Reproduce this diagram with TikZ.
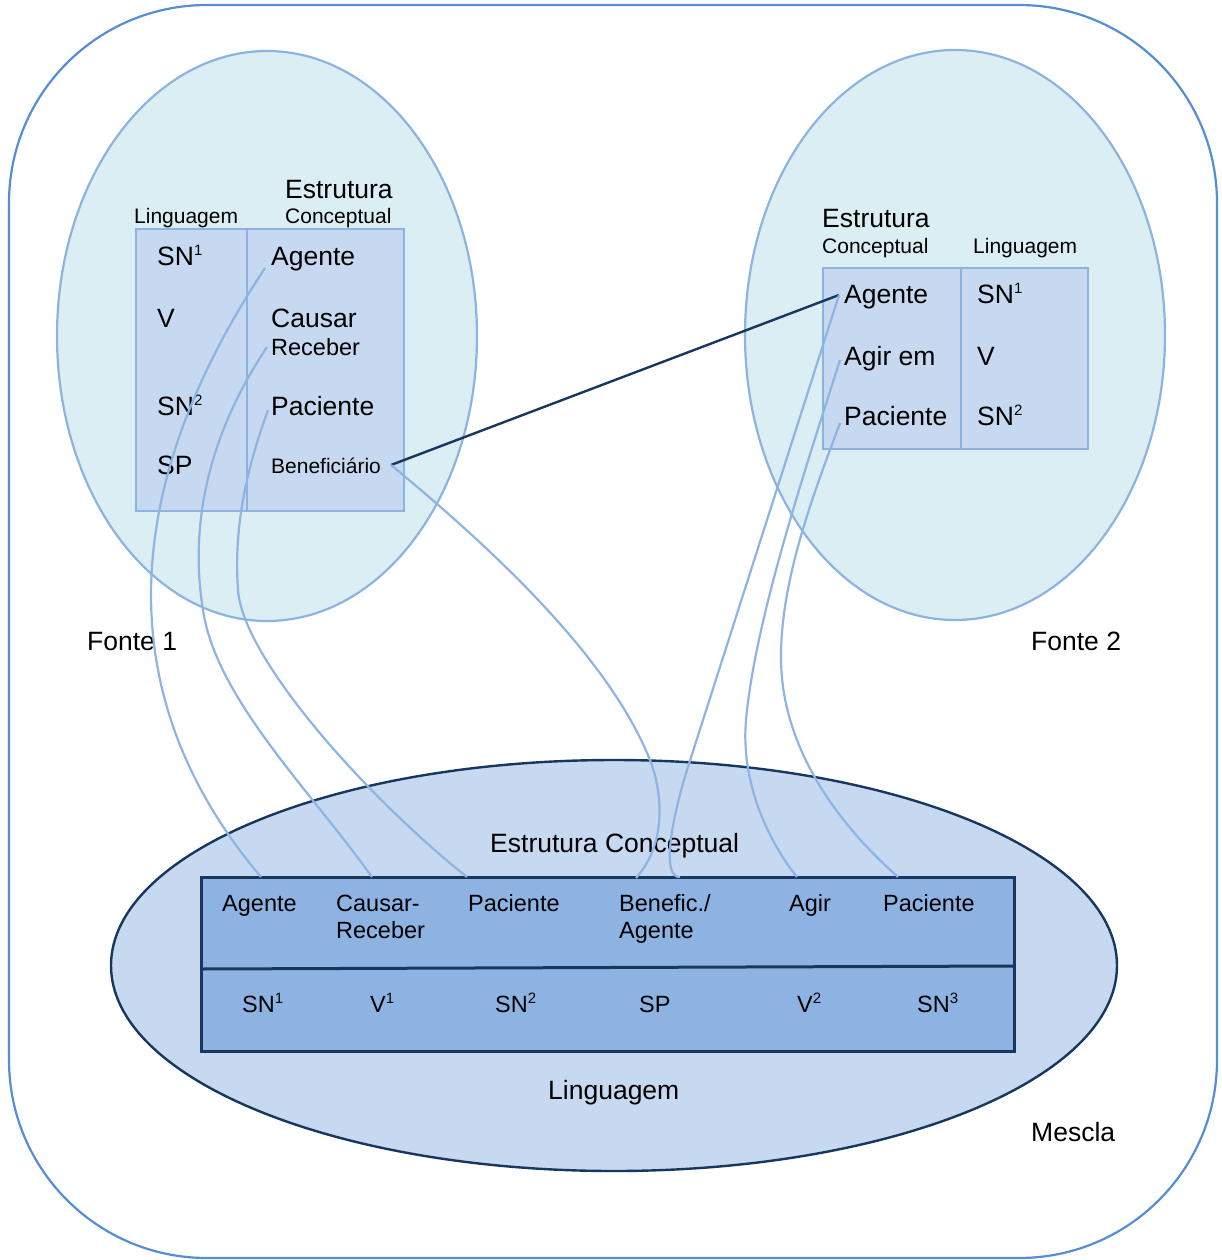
\documentclass[tikz,border=0pt]{standalone}
\usepackage{fontspec}
\setmainfont{Liberation Sans}
\usetikzlibrary{shapes.geometric}
\definecolor{frameblue}{HTML}{558ED5}
\definecolor{cyanfill}{HTML}{DBEEF4}
\definecolor{ringblue}{HTML}{8DB3E2}
\definecolor{boxfill}{HTML}{C6D9F1}
\definecolor{navy}{HTML}{17375E}
\definecolor{rowfill}{HTML}{8DB3E2}
\definecolor{linkblue}{HTML}{8EB4E3}
\newcommand\supx[1]{\raisebox{0.36em}{\fontsize{15}{15}\selectfont #1}}
\begin{document}
\begin{tikzpicture}[x=1pt,y=-1pt,
  big/.style={inner sep=0pt, anchor=base west, font=\fontsize{26.5}{30}\selectfont},
  mid/.style={inner sep=0pt, anchor=base west, font=\fontsize{23.5}{27}\selectfont},
  sml/.style={inner sep=0pt, anchor=base west, font=\fontsize{21}{24}\selectfont},
  source/.style={ellipse, draw=ringblue, fill=cyanfill, line width=2.2pt, inner sep=0pt},
  table/.style={rectangle, draw=ringblue, fill=boxfill, line width=2.4pt, inner sep=0pt},
  link/.style={draw=linkblue, line width=2.2pt},
  strong/.style={draw=navy, line width=2.4pt}]
\useasboundingbox (0,0) rectangle (1221,1260);

% outer frame of the blend space
\draw[frameblue, line width=2.2pt, rounded corners=198pt] (9,5) rectangle (1217,1258);

% the two input spaces
\node[source, minimum width=420pt, minimum height=570pt] (fonte1) at (267,336) {};
\node[source, minimum width=420pt, minimum height=570pt] (fonte2) at (955,335) {};

\node[table, minimum width=268pt, minimum height=282pt] (tab1) at (270,370) {};
\draw[ringblue, line width=2.4pt] (247,229) -- (247,511);
\node[table, minimum width=265pt, minimum height=181pt] (tab2) at (955.5,358.5) {};
\draw[ringblue, line width=2.4pt] (961,268) -- (961,449);

% blended space
\node[ellipse, draw=navy, fill=boxfill, line width=2.4pt, inner sep=0pt,
      minimum width=1006pt, minimum height=411pt] (mescla) at (614,965.5) {};
\node[rectangle, draw=navy, fill=rowfill, line width=3pt, inner sep=0pt,
      minimum width=813pt, minimum height=174pt] (tab3) at (607.5,964) {};
\draw[navy, line width=3pt] (201,969) -- (1014,966);

% input space 1 labels
\node[big] (est1) at (285,198) {Estrutura};
\node[sml] (con1) at (285,223) {Conceptual};
\node[sml] (lin1) at (134,223) {Linguagem};
\node[big] (sn1a) at (157,265) {SN\supx{1}};
\node[big] (va) at (157,327) {V};
\node[big] (sn2a) at (157,415) {SN\supx{2}};
\node[big] (spa) at (157,474) {SP};
\node[big] (ag1) at (271,265) {Agente};
\node[big] (cau1) at (271,327) {Causar};
\node[mid] (rec1) at (271,355) {Receber};
\node[big] (pac1) at (271,415) {Paciente};
\node[sml] (ben1) at (271,473) {Beneficiário};

% input space 2 labels
\node[big] (est2) at (822,227) {Estrutura};
\node[sml] (con2) at (822,253) {Conceptual};
\node[sml] (lin2) at (973,253) {Linguagem};
\node[big] (ag2) at (844,303) {Agente};
\node[big] (agir2) at (844,365) {Agir em};
\node[big] (pac2) at (844,425) {Paciente};
\node[big] (sn1b) at (977,303) {SN\supx{1}};
\node[big] (vb) at (977,365) {V};
\node[big] (sn2b) at (977,425) {SN\supx{2}};

% space names
\node[big] (f1) at (87,650) {Fonte 1};
\node[big] (f2) at (1031,650) {Fonte 2};
\node[big] (mes) at (1031,1141) {Mescla};
\node[big] (est3) at (490,852) {Estrutura Conceptual};
\node[big] (lin3) at (548,1099) {Linguagem};

% blended rows
\node[mid] (ag3) at (222,911) {Agente};
\node[mid] (cau3) at (336,911) {Causar-};
\node[mid] (rec3) at (336,938) {Receber};
\node[mid] (pac3) at (468,911) {Paciente};
\node[mid] (ben3) at (619,911) {Benefic./};
\node[mid] (ben3b) at (619,938) {Agente};
\node[mid] (agir3) at (789,911) {Agir};
\node[mid] (pac3b) at (883,911) {Paciente};
\node[mid] (sn1c) at (242,1012) {SN\supx{1}};
\node[mid] (v1c) at (370,1012) {V\supx{1}};
\node[mid] (sn2c) at (495,1012) {SN\supx{2}};
\node[mid] (spc) at (639,1012) {SP};
\node[mid] (v2c) at (797,1012) {V\supx{2}};
\node[mid] (sn3c) at (917,1012) {SN\supx{3}};

% connector ends
\coordinate (ag1-e) at (265,268);
\coordinate (rec1-e) at (267,347);
\coordinate (pac1-e) at (268,410);
\coordinate (ben1-e) at (391,465);
\coordinate (ag2-e) at (839,295);
\coordinate (agir2-e) at (840,360);
\coordinate (pac2-e) at (840,423);
\coordinate (ag3-e) at (261,877);
\coordinate (cau3-e) at (372,877);
\coordinate (pac3-e) at (467,877);
\coordinate (ben3-e) at (636,878);
\coordinate (ben3-f) at (680,877);
\coordinate (agir3-e) at (797,877);
\coordinate (pac3b-e) at (898,877);

% mappings between the spaces
\draw[strong] (ben1-e) -- (ag2-e);
\draw[link] (ag1-e) .. controls (85,540) and (145,740) .. (ag3-e);
\draw[link] (rec1-e) .. controls (205,440) and (190,530) .. (203,610)
                     .. controls (216,698) and (310,790) .. (cau3-e);
\draw[link] (pac1-e) .. controls (250,460) and (233,520) .. (238,590)
                     .. controls (243,660) and (370,800) .. (pac3-e);
\draw[link] (ben1-e) .. controls (500,555) and (610,660) .. (650,760)
                     .. controls (660,785) and (670,840) .. (ben3-e);
\draw[link] (ag2-e) -- (687,770) .. controls (670,825) and (662,878) .. (ben3-f);
\draw[link] (agir2-e) .. controls (805,470) and (755,620) .. (746,720)
                      .. controls (740,790) and (775,850) .. (agir3-e);
\draw[link] (pac2-e) .. controls (815,490) and (780,580) .. (781,660)
                     .. controls (782,740) and (828,815) .. (pac3b-e);
\end{tikzpicture}
\end{document}
